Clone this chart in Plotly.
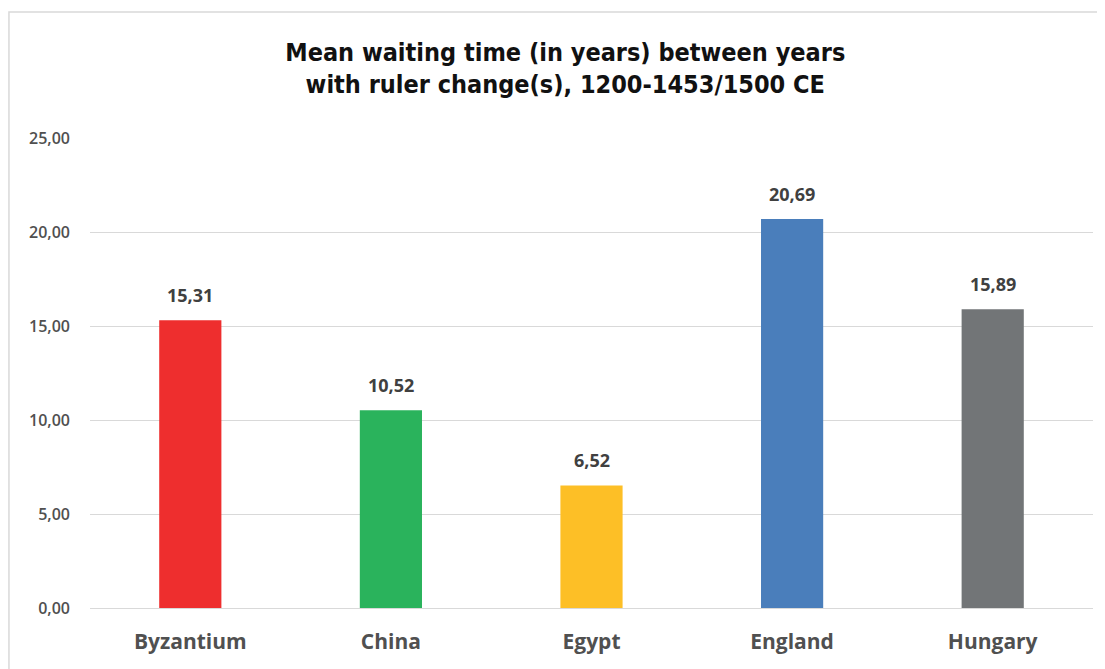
import plotly.graph_objects as go

# data
countries = ["Byzantium", "China", "Egypt", "England", "Hungary"]
mean_wait = [15.31, 10.52, 6.52, 20.69, 15.89]
bar_colors = ["#EE2E2E", "#2AB35C", "#FDBF26", "#4A7EBB", "#727577"]
y_ticks = [0, 5, 10, 15, 20, 25]

fig = go.Figure()
fig.add_trace(go.Bar(
    x=countries,
    y=mean_wait,
    marker=dict(color=bar_colors, line=dict(width=0)),
    hoverinfo="x+y",
))

# value labels above the bars
for c, v in zip(countries, mean_wait):
    fig.add_annotation(
        x=c, y=v, text=f"{v:.2f}".replace(".", ","),
        showarrow=False, yanchor="middle", yshift=25,
        font=dict(family="Open Sans", size=18, color="#404040", weight="bold"),
    )

fig.update_layout(
    width=1097,
    height=661,
    separators=",.",
    paper_bgcolor="white",
    plot_bgcolor="white",
    margin=dict(l=82, r=12, t=130, b=61),
    bargap=0.69,
    showlegend=False,
    title=dict(
        text="Mean waiting time (in years) between years<br>with ruler change(s), 1200-1453/1500 CE",
        x=0.508, xanchor="center",
        y=0.92, yanchor="middle",
        font=dict(family="DejaVu Sans Condensed, Liberation Sans Narrow, sans-serif",
                  size=25, color="#111111", weight="bold"),
    ),
    xaxis=dict(
        showgrid=False,
        showline=False,
        ticks="",
        tickfont=dict(family="Open Sans", size=21, color="#505050", weight="bold"),
        ticklabelstandoff=19,
    ),
    yaxis=dict(
        range=[0, 25],
        tickvals=y_ticks,
        tickformat=".2f",
        showgrid=True,
        gridcolor="#D9D9D9",
        gridwidth=1.3,
        zeroline=True,
        zerolinecolor="#D9D9D9",
        zerolinewidth=1.3,
        showline=False,
        ticks="",
        ticklabelstandoff=19,
        tickfont=dict(family="Open Sans", size=16, color="#505050", weight=600),
    ),
    shapes=[dict(
        type="rect", xref="paper", yref="paper",
        x0=-0.0808, x1=1.1, y0=-0.2, y1=1.268,
        line=dict(color="#D9D9D9", width=1.5),
        fillcolor="rgba(0,0,0,0)",
        layer="below",
    )],
)

fig.write_html("out.html")
